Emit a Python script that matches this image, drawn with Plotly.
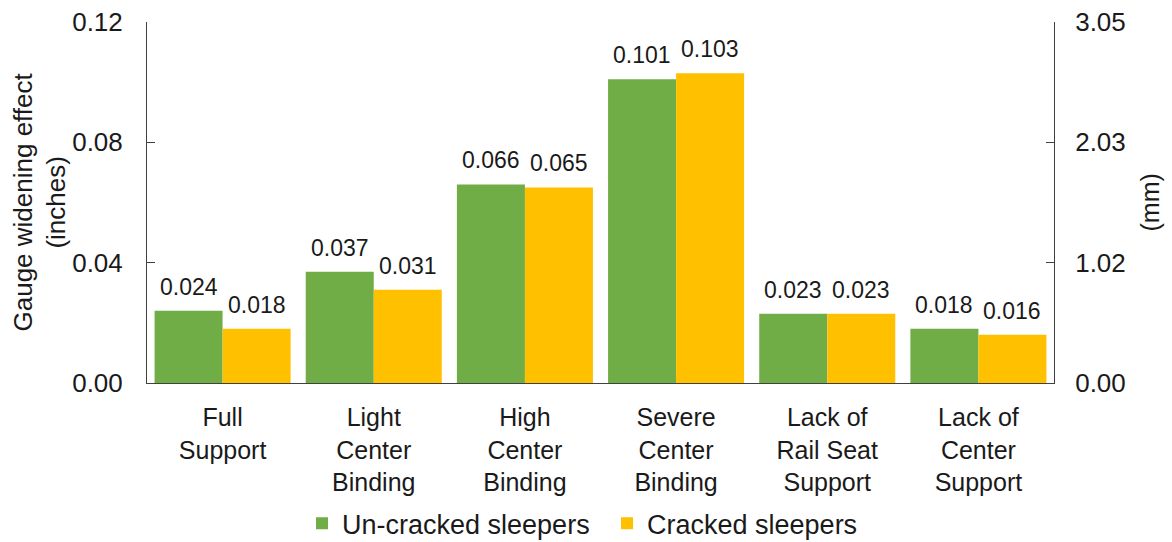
import plotly.graph_objects as go

categories = ["Full<br>Support", "Light<br>Center<br>Binding", "High<br>Center<br>Binding",
              "Severe<br>Center<br>Binding", "Lack of<br>Rail Seat<br>Support", "Lack of<br>Center<br>Support"]
uncracked = [0.024, 0.037, 0.066, 0.101, 0.023, 0.018]
cracked = [0.018, 0.031, 0.065, 0.103, 0.023, 0.016]
left_ticks = [0.00, 0.04, 0.08, 0.12]
right_tick_labels = ["0.00", "1.02", "2.03", "3.05"]
MM_PER_IN = 25.4

FONT = "Arial"
TXT = "#1a1a1a"
FS = 25

W, H = 1172, 542
ML, MR, MT, MB = 147, 118, 22, 159
BARGAP = 0.1
plot_w = W - ML - MR
bar_w = (1 - BARGAP) * plot_w / len(categories) / 2

fig = go.Figure()
fig.add_trace(go.Bar(x=categories, y=uncracked, name="Un-cracked sleepers",
                     marker_color="#70AD47", marker_line_width=0))
fig.add_trace(go.Bar(x=categories, y=cracked, name="Cracked sleepers",
                     marker_color="#FFC000", marker_line_width=0))
fig.add_trace(go.Scatter(x=[categories[0]], y=[0], yaxis="y2", mode="markers",
                         marker=dict(opacity=0), showlegend=False, hoverinfo="skip"))

# value labels above bars
for series, sign in ((uncracked, -1), (cracked, 1)):
    for c, v in zip(categories, series):
        fig.add_annotation(x=c, y=v, xref="x", yref="y", text=f"{v:.3f}", showarrow=False,
                           xanchor="center", yanchor="bottom", xshift=sign * bar_w / 2, yshift=9,
                           font=dict(size=23, color=TXT, family=FONT))

# axis titles
fig.add_annotation(x=0, y=0.5, xref="paper", yref="paper", text="Gauge widening effect<br>(inches)",
                   showarrow=False, textangle=-90, xanchor="center", yanchor="middle",
                   xshift=-108, font=dict(size=26, color=TXT, family=FONT))
fig.add_annotation(x=1, y=0.5, xref="paper", yref="paper", text="(mm)",
                   showarrow=False, textangle=-90, xanchor="center", yanchor="middle",
                   xshift=95, font=dict(size=25, color=TXT, family=FONT))

fig.update_layout(
    width=W, height=H,
    margin=dict(l=ML, r=MR, t=MT, b=MB),
    paper_bgcolor="white", plot_bgcolor="white",
    font=dict(family=FONT, size=FS, color=TXT),
    barmode="group", bargap=BARGAP, bargroupgap=0,
    showlegend=True,
    legend=dict(orientation="h", xref="container", yref="container",
                x=0.2577, xanchor="left", y=0.079, yanchor="top",
                entrywidth=260, entrywidthmode="pixels",
                font=dict(size=27, color=TXT, family=FONT), traceorder="normal"),
    xaxis=dict(showline=True, linecolor="#404040", linewidth=1, ticks="",
               tickfont=dict(size=FS, color=TXT), ticklabelstandoff=12, automargin=False),
    yaxis=dict(range=[0, 0.12], tickvals=left_ticks, ticktext=[f"{v:.2f}" for v in left_ticks],
               showline=True, linecolor="#404040", linewidth=1, ticks="inside", ticklen=8,
               tickcolor="#404040", showgrid=False, zeroline=False, automargin=False,
               tickfont=dict(size=26, color=TXT), ticklabelstandoff=18),
    yaxis2=dict(overlaying="y", side="right", range=[0, 0.12 * MM_PER_IN],
                tickvals=[v * MM_PER_IN for v in left_ticks], ticktext=right_tick_labels,
                showline=True, linecolor="#404040", linewidth=1, ticks="inside", ticklen=8,
                tickcolor="#404040", showgrid=False, zeroline=False, automargin=False,
                tickfont=dict(size=26, color=TXT), ticklabelstandoff=15),
)

fig.write_html("out.html")
